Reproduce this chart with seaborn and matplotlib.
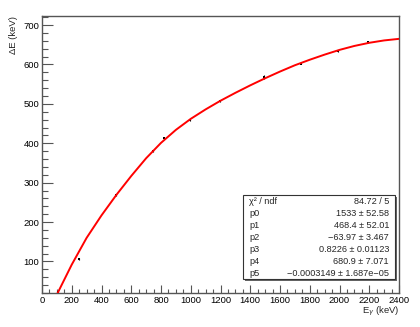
import numpy as np
import pandas as pd
import seaborn as sns
import matplotlib
matplotlib.use('Agg')
import matplotlib.pyplot as plt
from matplotlib.patches import Rectangle
from matplotlib.ticker import MultipleLocator

# 數據點 (E_gamma, Delta E)
e_gamma = [105, 250, 497, 745, 822, 995, 1197, 1492, 1743, 1992, 2190]
delta_e = [22, 107, 268, 380, 414, 459, 507, 568, 602, 634, 656]
delta_e_err = [2, 2, 2, 2.5, 2, 2, 2, 5, 2, 2, 2]

# 擬合曲線
fit_x = [100, 200, 300, 400, 500, 600, 700, 800, 900, 1000, 1100, 1200,
         1300, 1400, 1500, 1600, 1700, 1800, 1900, 2000, 2100, 2200, 2300, 2400]
fit_y = [16, 92, 160, 217, 269, 317, 362, 401, 434, 462, 486, 508,
         528, 547, 565, 582, 598, 612, 625, 637, 647, 655, 661, 665]

# 統計框
stat_names = ['χ² / ndf', 'p0', 'p1', 'p2', 'p3', 'p4', 'p5']
stat_values = ['84.72 / 5', '1533 ± 52.58', '468.4 ± 52.01', '−63.97 ± 3.467',
               '0.8226 ± 0.01123', '680.9 ± 7.071', '−0.0003149 ± 1.687e−05']

sns.set_style('ticks')
plt.rcParams['font.family'] = ['Liberation Sans', 'DejaVu Sans']
plt.rcParams['axes.unicode_minus'] = True

pts = pd.DataFrame({'E': e_gamma, 'dE': delta_e, 'err': delta_e_err})
fit = pd.DataFrame({'E': fit_x, 'dE': fit_y})

fig = plt.figure(figsize=(4.2, 3.27), dpi=100)
ax = fig.add_axes([42 / 420, 34 / 327, 357 / 420, 277 / 327])

ax.errorbar(pts['E'], pts['dE'], yerr=pts['err'], fmt='none', ecolor='black',
            elinewidth=0.8, capsize=0, zorder=3)
sns.scatterplot(data=pts, x='E', y='dE', marker='s', s=3, color='black',
                edgecolor='black', linewidth=0, ax=ax, zorder=4)
sns.lineplot(data=fit, x='E', y='dE', color='red', linewidth=1.4, ax=ax, zorder=5)

ax.set_xlim(0, 2400)
ax.set_ylim(20, 723)
ax.xaxis.set_major_locator(MultipleLocator(200))
ax.xaxis.set_minor_locator(MultipleLocator(50))
ax.yaxis.set_major_locator(MultipleLocator(100))
ax.yaxis.set_minor_locator(MultipleLocator(20))

axis_col = '#555555'
for sp in ax.spines.values():
    sp.set_color(axis_col)
    sp.set_linewidth(1.0)
ax.tick_params(which='both', direction='in', colors=axis_col, labelcolor='black',
               labelsize=6.8, top=False, right=False, pad=2)
ax.tick_params(axis='x', which='major', length=5.5, width=0.8)
ax.tick_params(axis='x', which='minor', length=2.8, width=0.8)
ax.tick_params(axis='y', which='major', length=8, width=0.8)
ax.tick_params(axis='y', which='minor', length=4, width=0.8)

ax.set_xlabel(r'E$_{\gamma}$ (keV)', loc='right', fontsize=6.8, labelpad=0)
ax.set_ylabel('ΔE (keV)', loc='top', fontsize=6.8, labelpad=4)

# 統計框
bx0, bx1 = 243 / 420, 395 / 420
by0, by1 = (327 - 279) / 327, (327 - 195) / 327
fig.patches.append(Rectangle((bx0 + 1.5 / 420, by0 - 1.5 / 327), bx1 - bx0, by1 - by0,
                             transform=fig.transFigure, facecolor='#666666',
                             edgecolor='none', zorder=9))
fig.patches.append(Rectangle((bx0, by0), bx1 - bx0, by1 - by0, transform=fig.transFigure,
                             facecolor='white', edgecolor='#333333', linewidth=0.8, zorder=10))
row_h = (by1 - by0) / len(stat_names)
for i, (n, v) in enumerate(zip(stat_names, stat_values)):
    yy = by1 - row_h * (i + 0.5)
    fig.text(bx0 + 6 / 420, yy, n, fontsize=6.6, va='center', ha='left', zorder=11)
    fig.text(bx1 - 6 / 420, yy, v, fontsize=6.6, va='center', ha='right', zorder=11)

fig.savefig('out.png', dpi=100)
